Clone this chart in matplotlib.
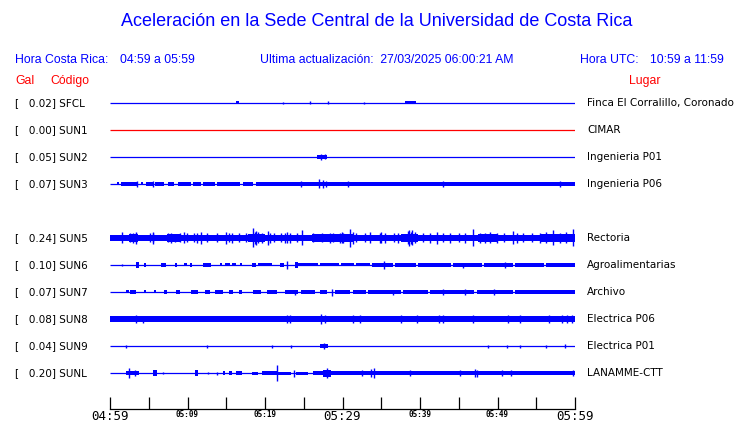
import numpy as np
import matplotlib
matplotlib.use('Agg')
import matplotlib.pyplot as plt

# station table
gal = [0.02, 0.00, 0.05, 0.07, 0.24, 0.10, 0.07, 0.08, 0.04, 0.20]
codes = ['SFCL', 'SUN1', 'SUN2', 'SUN3', 'SUN5', 'SUN6', 'SUN7', 'SUN8', 'SUN9', 'SUNL']
places = ['Finca El Corralillo, Coronado', 'CIMAR', 'Ingenieria P01', 'Ingenieria P06',
          'Rectoria', 'Agroalimentarias', 'Archivo', 'Electrica P06', 'Electrica P01', 'LANAMME-CTT']
trace_colors = ['blue', 'red', 'blue', 'blue', 'blue', 'blue', 'blue', 'blue', 'blue', 'blue']

# time axis (minutes after 04:59)
tick_min = [0, 10, 20, 30, 40, 50, 60]
tick_lab = ['04:59', '05:09', '05:19', '05:29', '05:39', '05:49', '05:59']
minor_min = [5, 15, 25, 35, 45, 55]

# trace envelopes: blocks (t0, t1, half amplitude), spikes (t, half amplitude)
blocks = {
    'SFCL': [(16.3, 16.7, 1.5), (38.0, 39.5, 1.5)],
    'SUN1': [],
    'SUN2': [(26.7, 28.0, 2)],
    'SUN3': [(0.9, 1.2, 1.5), (1.4, 3.5, 1.8), (4.0, 4.3, 1.5), (4.7, 5.5, 1.8), (5.8, 7.0, 1.8),
             (7.5, 8.2, 1.8), (8.8, 10.4, 1.8), (10.7, 11.8, 1.8), (12.0, 13.5, 1.8), (13.8, 16.8, 1.8),
             (17.2, 18.5, 1.8), (18.8, 60, 1.8)],
    'SUN5': [(0, 60, 3.2), (2.5, 3.6, 4), (7.3, 9.2, 3.8), (17.8, 20.0, 4), (26, 31.5, 3.8),
             (37.5, 39.8, 4.2), (47.5, 50, 3.8), (55.5, 60, 3.9)],
    'SUN6': [(3.3, 3.7, 3), (4.4, 4.6, 2), (6.6, 7.2, 2), (8.4, 8.6, 2), (9.6, 9.9, 1.5),
             (10.3, 10.6, 2), (12.0, 13.0, 2), (14.2, 14.4, 1.5), (14.8, 15.5, 1.5), (15.8, 16.2, 1.5),
             (16.8, 17.0, 1.5), (18.3, 18.8, 2), (19.1, 20.9, 1.5), (21.9, 22.4, 2), (23.9, 24.2, 3),
             (24.3, 26.9, 1.5), (27.1, 29.5, 1.5), (29.8, 31.5, 1.5), (31.8, 33.5, 1.5), (33.8, 36.5, 1.7),
             (36.8, 39.5, 1.7), (39.8, 44, 1.7), (44.3, 48, 1.7), (48.3, 52, 1.7), (52.3, 56, 1.7),
             (56.3, 60, 1.7)],
    'SUN7': [(2.0, 2.4, 1.5), (2.6, 3.4, 2), (4.4, 4.6, 1.5), (5.7, 5.9, 1.5), (7.0, 7.3, 2),
             (8.5, 9.0, 2), (10.5, 11.3, 2), (12.3, 12.9, 2), (13.6, 14.6, 2), (15.3, 15.9, 2),
             (16.6, 17.0, 2), (18.4, 19.5, 2), (20.2, 21.5, 2), (22.6, 24.3, 2), (24.7, 26.4, 2),
             (27.1, 28.0, 2), (29.0, 31.0, 1.7), (31.3, 33.0, 1.7), (33.3, 37.5, 1.7), (37.8, 41, 1.7),
             (41.3, 47, 1.7), (47.3, 52, 1.7), (52.3, 60, 1.7)],
    'SUN8': [(0, 60, 2.8)],
    'SUN9': [(27.1, 28.1, 2)],
    'SUNL': [(2, 3.7, 2), (5.6, 6.0, 2.5), (11, 11.4, 2.5), (14.6, 14.8, 2), (15.3, 15.7, 2),
             (16.3, 17.0, 2), (18.3, 19.1, 1.5), (19.6, 21.5, 1.7), (21.7, 23.4, 1.5), (24.0, 25.6, 1.5),
             (26.2, 30.3, 1.8), (27.5, 28.5, 3.5), (30.3, 60, 2.0)],
}
spikes = {
    'SFCL': [(22.3, 1), (25.8, 1.5), (28.1, 1.5), (32.8, 1)],
    'SUN1': [],
    'SUN2': [(27.2, 3), (27.8, 2.5)],
    'SUN3': [(3.5, 3), (5.5, 3), (24.7, 3), (27.0, 4.5), (27.5, 4), (27.9, 3), (30.7, 3),
             (43.0, 3), (58.0, 3)],
    'SUN5': [(1.5, 5.5), (2.6, 4.5), (3.0, 5), (3.3, 6), (3.4, 4.5), (5.2, 4.5), (5.5, 6),
             (5.6, 4.5), (7.5, 4.5), (7.9, 5), (8.4, 4), (9.0, 4.5), (9.5, 5.5), (9.9, 4.5),
             (10.8, 4.5), (11.2, 5), (11.8, 6), (12.5, 4.5), (13.8, 4.5), (15.0, 6), (15.3, 4.5),
             (15.7, 5), (16.6, 4.5), (17.6, 4.5), (18.5, 9.5), (18.7, 6), (18.8, 7), (19.1, 5.5),
             (19.6, 5), (20.4, 7), (20.6, 5), (21.1, 4.5), (22.0, 4.5), (22.6, 5), (22.9, 5.5),
             (23.2, 5), (24.1, 4.5), (24.8, 7.5), (26.2, 4.5), (27.3, 4.5), (28.4, 5), (28.8, 4.5),
             (29.7, 5), (29.9, 5.5), (30.1, 5), (31.0, 9), (31.3, 6), (31.8, 4.5), (32.9, 4.5),
             (33.5, 5.5), (34.8, 5), (35.0, 5.5), (35.5, 5), (36.6, 4.5), (37.2, 5), (38.5, 6.5),
             (38.6, 8), (38.9, 6), (39.0, 7.5), (39.4, 5.5), (40.4, 4.5), (41.3, 5), (42.2, 6),
             (43.0, 4.5), (43.9, 5), (45.0, 4.5), (45.8, 5), (46.9, 8.5), (47.7, 5), (48.4, 5),
             (49.0, 5.5), (49.9, 5), (50.8, 4.5), (52.0, 6.5), (52.5, 5), (53.3, 4.5), (54.4, 4.5),
             (55.5, 5), (56.3, 5.5), (57.2, 7.5), (58.1, 5), (58.9, 5.5), (59.7, 8.5)],
    'SUN6': [(1.5, 1.2), (22.8, 4), (35.4, 4), (45.5, 2.5), (51, 3)],
    'SUN7': [(23.9, 2.5), (28.6, 3.5), (36.5, 2.5), (43, 3), (45.8, 3), (49.5, 3)],
    'SUN8': [(3.4, 4), (4.3, 3.5), (22.8, 4), (23.2, 4), (27.2, 5), (27.7, 4.5), (31.4, 4),
             (32.2, 4), (37.5, 4), (39.6, 4), (42.4, 4), (43.0, 4), (46.8, 4), (51.3, 4),
             (52.9, 4), (56.6, 4), (58.3, 4), (59.0, 4), (59.6, 4)],
    'SUN9': [(2, 1.5), (12.5, 1.5), (20.9, 1.5), (23.4, 1.5), (27.6, 3), (48.8, 1.5),
             (51.2, 1.5), (52.9, 1.5), (56.3, 1.5), (58.7, 1.8)],
    'SUNL': [(2.4, 5), (3.2, 3), (6.8, 1), (12.7, 1), (13.8, 1.5), (21.5, 8), (23.8, 3.5),
             (28.0, 5), (32.5, 3), (33.7, 4), (34.0, 5), (38.7, 3), (45.2, 3), (47.1, 4),
             (47.4, 3.5), (50.6, 3), (51.8, 2.5), (59.8, 2.5)],
}

# row slots (one empty slot after SUN3)
rows = [0, 1, 2, 3, 5, 6, 7, 8, 9, 10]
W, H = 740, 423
row_px = 27.0  # amplitude units per row spacing

fig = plt.figure(figsize=(W / 100, H / 100), dpi=100)
ax = fig.add_axes([110 / W, 1 - 409 / H, 465 / W, (409 - 90) / H])
ax.set_xlim(0, 60)
ax.set_ylim(-(409 - 103) / row_px, (103 - 90) / row_px)

for code, r, col in zip(codes, rows, trace_colors):
    y0 = -r
    ax.plot([0, 60], [y0, y0], color=col, lw=0.9, solid_capstyle='butt')
    for t0, t1, h in blocks[code]:
        a = h / row_px
        ax.fill_between([t0, t1], y0 - a, y0 + a, color=col, lw=0)
    if spikes[code]:
        st = [s[0] for s in spikes[code]]
        sh = np.array([s[1] for s in spikes[code]]) / row_px
        ax.vlines(st, y0 - sh, y0 + sh, color=col, lw=1.0)

for s in ['top', 'right', 'left']:
    ax.spines[s].set_visible(False)
ax.spines['bottom'].set_linewidth(0.9)
ax.set_yticks([])
ax.set_xticks(tick_min)
ax.set_xticks(minor_min, minor=True)
ax.tick_params(axis='x', which='both', direction='in', length=8.6, width=0.9, pad=0.5)
ax.set_xticklabels(tick_lab)
for i, lab in enumerate(ax.get_xticklabels()):
    lab.set_fontfamily('DejaVu Sans Mono')
    if i % 3 == 0:
        lab.set_fontsize(9)
    else:
        lab.set_fontsize(5.5)
        lab.set_fontweight('bold')


def ftext(x, y, s, **kw):
    fig.text(x / W, 1 - y / H, s, va='center', **kw)


hfont = 'Liberation Sans'
ftext(377, 22, 'Aceleración en la Sede Central de la Universidad de Costa Rica', ha='center',
      color='blue', fontsize=13, family=hfont)
ftext(15, 60, 'Hora Costa Rica:', color='blue', fontsize=8.8, family=hfont)
ftext(120, 60, '04:59 a 05:59', color='blue', fontsize=8.8, family=hfont)
ftext(260, 60, 'Ultima actualización:  27/03/2025 06:00:21 AM', color='blue', fontsize=8.8, family=hfont)
ftext(580, 60, 'Hora UTC:', color='blue', fontsize=8.8, family=hfont)
ftext(650, 60, '10:59 a 11:59', color='blue', fontsize=8.8, family=hfont)
ftext(15, 81, 'Gal', color='red', fontsize=8.8, family=hfont)
ftext(50, 81, 'Código', color='red', fontsize=8.8, family=hfont)
ftext(629, 81, 'Lugar', color='red', fontsize=8.8, family=hfont)

for g, code, place, r in zip(gal, codes, places, rows):
    ypx = 103 + r * row_px
    ftext(15, ypx, '[   %.2f] %s' % (g, code), color='black', fontsize=7.5, family='DejaVu Sans')
    ftext(587, ypx, place, color='black', fontsize=7.5, family='DejaVu Sans')

fig.savefig('out.png', dpi=100)
